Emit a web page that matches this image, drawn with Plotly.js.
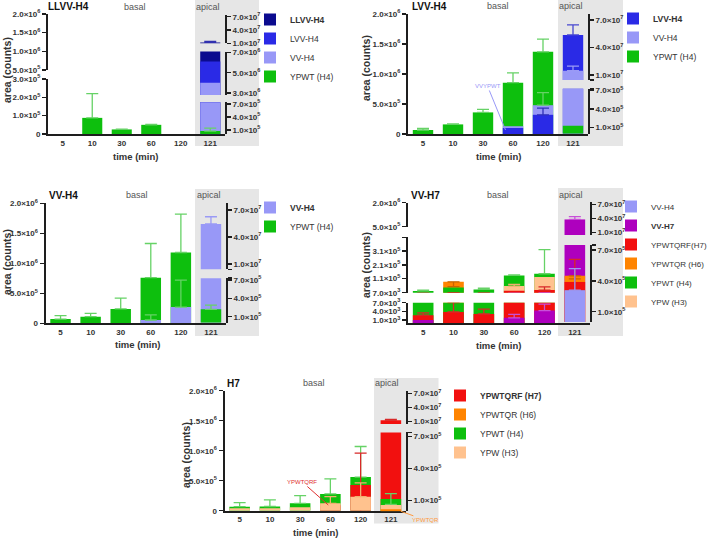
<!DOCTYPE html>
<html><head><meta charset="utf-8">
<script src="https://cdn.plot.ly/plotly-3.0.1.min.js"></script>
<style>html,body{margin:0;padding:0;background:#fff}</style>
</head><body><div id="chart" style="width:708px;height:538px"></div>
<script>
// ---------------- DATA ----------------
const categories = ['5', '10', '30', '60', '120', '121'];
const basalCats = ['5', '10', '30', '60', '120'];
const apicalCats = ['121'];

// Panel 1: LLVV-H4
const llvv_basal_YPWT     = [0, 8.8e4, 2.5e4, 5.0e4, 0];
const llvv_basal_YPWT_sd  = [0, 1.32e5, 2e3, 3e3, 0];
const llvv_apical_LLVV    = [1.2e7];
const llvv_apical_LLVV_sd = [2.5e6];
const llvv_apical_LVV     = [6.1e6];
const llvv_apical_VV      = [4.0e6];
const llvv_apical_YPWT    = [7.5e4];
const llvv_apical_YPWT_sd = [7e4];

// Panel 2: LVV-H4
const lvv_basal_YPWT      = [6.7e4, 1.6e5, 3.6e5, 8.55e5, 1.37e6];
const lvv_basal_YPWT_sd   = [2.8e4, 1e4, 5e4, 1.65e5, 2.1e5];
const lvv_basal_VV        = [0, 0, 0, 1.3e5, 4.8e5];
const lvv_basal_VV_sd     = [0, 0, 0, 0, 2.1e5];
const lvv_basal_LVV       = [0, 0, 0, 1.0e5, 3.2e5];
const lvv_basal_LVV_sd    = [0, 0, 0, 0, 1.1e5];
const lvv_apical_LVV      = [5.36e7];
const lvv_apical_LVV_sd   = [1.1e7];
const lvv_apical_VV       = [1.47e7];
const lvv_apical_VV_sd    = [5e6];
const lvv_apical_YPWT     = [1.3e5];

// Panel 3: VV-H4
const vv4_basal_YPWT      = [7e4, 1.1e5, 2.4e5, 7.6e5, 1.18e6];
const vv4_basal_YPWT_sd   = [5.7e4, 5.7e4, 1.8e5, 5.7e5, 6.4e5];
const vv4_basal_VV        = [0, 0, 0, 5.5e4, 2.7e5];
const vv4_basal_VV_sd     = [0, 0, 0, 8.5e4, 4.5e5];
const vv4_apical_VV       = [5.44e7];
const vv4_apical_VV_sd    = [8e6];
const vv4_apical_YPWT     = [2.2e5];
const vv4_apical_YPWT_sd  = [7e4];

// Panel 4: VV-H7
const vv7_basal_H6        = [0, 8.6e4, 0, 0, 0];
const vv7_basal_H6_sdm    = [0, 3.5e4, 0, 0, 0];
const vv7_basal_H4        = [2e4, 4.5e4, 3.1e4, 1.33e5, 1.45e5];
const vv7_basal_H4_sd     = [6e3, 0, 9e3, 3e3, 1.75e5];
const vv7_basal_H3        = [0, 0, 0, 5.5e4, 1.22e5];
const vv7_basal_H3_sd     = [0, 0, 0, 1.2e4, 0];
const vv7_basal_H7        = [2.7e3, 3.8e3, 3.1e3, 2.1e4, 2.6e4];
const vv7_basal_H7_sd     = [8e2, 3.2e3, 1.7e3, 0, 2.4e4];
const vv7_basal_VVH7      = [1e3, 0, 0, 1.8e3, 4.3e3];
const vv7_basal_VVH7_sd   = [0, 0, 0, 1.2e3, 2.2e3];
const vv7_apical_VVH7     = [3.8e7];
const vv7_apical_VVH7_sd  = [6e6];
const vv7_apical_H6       = [4.5e5];
const vv7_apical_H6_sdm   = [3e4];
const vv7_apical_H7       = [3.9e5];
const vv7_apical_H7_sd    = [2.2e5];
const vv7_apical_VVH4     = [3.1e5];
const vv7_apical_VVH4_sd  = [2.1e5];

// Panel 5: H7
const h7_basal_H4         = [6.7e4, 7e4, 1.23e5, 2.8e5, 5.6e5];
const h7_basal_H4_sd      = [6.6e4, 1.1e5, 1.27e5, 2.5e5, 5.1e5];
const h7_basal_H7         = [0, 0, 0, 9e4, 4.3e5];
const h7_basal_H7_sd      = [0, 0, 0, 0, 5.3e5];
const h7_basal_H3         = [4e4, 4e4, 5.7e4, 1.23e5, 2.33e5];
const h7_basal_H3_sd      = [0, 0, 0, 1.1e5, 2.3e5];
const h7_apical_H7        = [1.3e7];
const h7_apical_H7_sd     = [1.5e6];
const h7_apical_H4        = [1.15e5];
const h7_apical_H4_sd     = [5e4];
const h7_apical_H3        = [6e4];
const h7_apical_H6        = [2e4];

// ---------------- STYLE ----------------
const COL = {
  LLVV: '#0B0B8F', LVV: '#2A2AE6', VV: '#9898F7', H4: '#0DBF0D',
  VVH7: '#AE00BE', H7: '#F2100F', H6: '#FF8400', H3: '#FFC28E'
};
const ERRCOL = {
  LLVV: '#3030B0', LVV: '#4848D0', VV: '#9A9AF5', H4: '#66D266',
  VVH7: '#C850D8', H7: '#D82828', H6: '#C86400', H3: '#F0B070'
};
const FONT = 'Liberation Sans, Arial, sans-serif';
const W = 708, H = 538;
const fx = p => p / W, fy = p => 1 - p / H;
function fmt(v) {
  if (v === 0) return '0';
  const e = Math.floor(Math.log10(v) + 1e-9);
  const m = (v / Math.pow(10, e)).toFixed(1);
  return m + '×10<sup>' + e + '</sup>';
}

const panels = [
  { title: 'LLVV-H4', xdom: [48, 225], gray: [195, 259, 0, 146],
    titlePos: [68, 7], basalPos: [135, 7], apicalPos: [208, 7], yTitle: [7, 70], xTitle: [135, 156],
    legendPos: [250, 17], legendFont: 8.5,
    left: [ {range: [0, 3e5], py: [134, 79], ticks: [0, 1e5, 2e5, 3e5]},
            {range: [5e5, 2e6], py: [70, 14], ticks: [5e5, 1e6, 1.5e6, 2e6]} ],
    right: [ {range: [0, 7.4e5], py: [134.3, 102.3], ticks: [1e5, 4e5, 7e5]},
             {range: [2.8e6, 7.1e6], py: [95, 51.5], ticks: [3e6, 5e6, 7e6]},
             {range: [1e7, 7.5e7], py: [43.3, 14.5], ticks: [1e7, 4e7, 7e7]} ],
    basal: [ {k: 'H4', y: llvv_basal_YPWT, sd: llvv_basal_YPWT_sd} ],
    apical: [ {k: 'LLVV', y: llvv_apical_LLVV, sd: llvv_apical_LLVV_sd},
              {k: 'LVV', y: llvv_apical_LVV},
              {k: 'VV', y: llvv_apical_VV},
              {k: 'H4', y: llvv_apical_YPWT, sd: llvv_apical_YPWT_sd} ],
    legend: [['LLVV', '<b>LLVV-H4</b>'], ['LVV', 'LVV-H4'], ['VV', 'VV-H4'], ['H4', 'YPWT (H4)']] },

  { title: 'LVV-H4', xdom: [408, 588], gray: [558, 623, 0, 146],
    titlePos: [429, 6], basalPos: [498, 6], apicalPos: [571, 6], yTitle: [366, 68], xTitle: [498, 156],
    legendPos: [613, 16], legendFont: 8.5,
    left: [ {range: [0, 2e6], py: [134, 14], ticks: [0, 5e5, 1e6, 1.5e6, 2e6]} ],
    right: [ {range: [0, 7.3e5], py: [133.8, 88.8], ticks: [1e5, 4e5, 7e5], ends: [7.3e5]},
             {range: [4.5e6, 7.7e7], py: [80, 13.5], ticks: [1e7, 4e7, 7e7], ends: [4.5e6]} ],
    basal: [ {k: 'H4', y: lvv_basal_YPWT, sd: lvv_basal_YPWT_sd},
             {k: 'VV', y: lvv_basal_VV, sd: lvv_basal_VV_sd, ec: ERRCOL.H4},
             {k: 'LVV', y: lvv_basal_LVV, sd: lvv_basal_LVV_sd, ec: '#3030B8'} ],
    apical: [ {k: 'LVV', y: lvv_apical_LVV, sd: lvv_apical_LVV_sd},
              {k: 'VV', y: lvv_apical_VV, sd: lvv_apical_VV_sd},
              {k: 'H4', y: lvv_apical_YPWT} ],
    legend: [['LVV', '<b>LVV-H4</b>'], ['VV', 'VV-H4'], ['H4', 'YPWT (H4)']],
    note: {text: 'VVYPWT', color: '#9898F7', x: 2.75, y: 6.7e4, ax: -18, ay: -44} },

  { title: 'VV-H4', xdom: [45.5, 226], gray: [195, 259, 189, 336],
    titlePos: [63, 195], basalPos: [137, 195], apicalPos: [209, 195], yTitle: [7, 262], xTitle: [137, 344],
    legendPos: [250, 205], legendFont: 8.5,
    left: [ {range: [0, 2e6], py: [323.3, 203.3], ticks: [0, 5e5, 1e6, 1.5e6, 2e6]} ],
    right: [ {range: [0, 7.3e5], py: [322.8, 278.2], ticks: [1e5, 4e5, 7e5], ends: [7.3e5]},
             {range: [4.1e6, 7.8e7], py: [269.3, 202.7], ticks: [1e7, 4e7, 7e7], ends: [4.1e6]} ],
    basal: [ {k: 'H4', y: vv4_basal_YPWT, sd: vv4_basal_YPWT_sd},
             {k: 'VV', y: vv4_basal_VV, sd: vv4_basal_VV_sd, ec: ERRCOL.H4} ],
    apical: [ {k: 'VV', y: vv4_apical_VV, sd: vv4_apical_VV_sd},
              {k: 'H4', y: vv4_apical_YPWT, sd: vv4_apical_YPWT_sd} ],
    legend: [['VV', '<b>VV-H4</b>'], ['H4', 'YPWT (H4)']] },

  { title: 'VV-H7', xdom: [408, 590], gray: [558, 623, 188, 336],
    titlePos: [426, 195], basalPos: [498, 195], apicalPos: [571, 195], yTitle: [366, 265], xTitle: [498, 345],
    legendPos: [611, 204], legendFont: 8,
    left: [ {range: [0, 7e3], py: [323, 302.7], ticks: [1e3, 4e3, 7e3]},
            {range: [7e3, 4.1e5], py: [292.7, 237.3], ticks: [7e3, 1.1e5, 2.1e5, 3.1e5], ends: [4.1e5]},
            {range: [5e5, 2e6], py: [226.7, 202.7], ticks: [5e5, 2e6]} ],
    right: [ {range: [0, 7.5e5], py: [322, 245], ticks: [1e5, 4e5, 7e5], ends: [7.5e5]},
             {range: [5e6, 7.5e7], py: [235, 202], ticks: [1e7, 4e7, 7e7]} ],
    basal: [ {k: 'H6', y: vv7_basal_H6, sdm: vv7_basal_H6_sdm},
             {k: 'H4', y: vv7_basal_H4, sd: vv7_basal_H4_sd},
             {k: 'H3', y: vv7_basal_H3, sd: vv7_basal_H3_sd},
             {k: 'H7', y: vv7_basal_H7, sd: vv7_basal_H7_sd},
             {k: 'VVH7', y: vv7_basal_VVH7, sd: vv7_basal_VVH7_sd} ],
    apical: [ {k: 'VVH7', y: vv7_apical_VVH7, sd: vv7_apical_VVH7_sd},
              {k: 'H6', y: vv7_apical_H6, sdm: vv7_apical_H6_sdm},
              {k: 'H7', y: vv7_apical_H7, sd: vv7_apical_H7_sd, sym: true},
              {k: 'VV', y: vv7_apical_VVH4, sd: vv7_apical_VVH4_sd} ],
    legend: [['VV', 'VV-H4'], ['VVH7', '<b>VV-H7</b>'], ['H7', 'YPWTQRF(H7)'], ['H6', 'YPWTQR (H6)'], ['H4', 'YPWT (H4)'], ['H3', 'YPW (H3)']] },

  { title: 'H7', xdom: [224.5, 406], gray: [374, 438.5, 378, 523.5],
    titlePos: [233, 383], basalPos: [314, 383], apicalPos: [387, 383], yTitle: [186, 455], xTitle: [315, 532],
    legendPos: [440, 393], legendFont: 8.5,
    left: [ {range: [0, 2e6], py: [510.7, 390.7], ticks: [0, 5e5, 1e6, 1.5e6, 2e6]} ],
    right: [ {range: [0, 7.4e5], py: [511.3, 432.4], ticks: [1e5, 4e5, 7e5], ends: [7.4e5]},
             {range: [5e6, 7.5e7], py: [424, 390.9], ticks: [1e7, 4e7, 7e7]} ],
    basal: [ {k: 'H4', y: h7_basal_H4, sd: h7_basal_H4_sd},
             {k: 'H7', y: h7_basal_H7, sd: h7_basal_H7_sd, sym: true},
             {k: 'H3', y: h7_basal_H3, sd: h7_basal_H3_sd} ],
    apical: [ {k: 'H7', y: h7_apical_H7, sd: h7_apical_H7_sd},
              {k: 'H4', y: h7_apical_H4, sd: h7_apical_H4_sd, sym: true},
              {k: 'H3', y: h7_apical_H3},
              {k: 'H6', y: h7_apical_H6} ],
    legend: [['H7', '<b>YPWTQRF (H7)</b>'], ['H6', 'YPWTQR (H6)'], ['H4', 'YPWT (H4)'], ['H3', 'YPW (H3)']],
    note: {text: 'YPWTQRF', color: '#E03030', x: 2.93, y: 9.5e4, ax: -26, ay: -23},
    note2: {text: 'YPWTQR', color: '#FF9A40', x: 5.33, y: 0, ax: 25, ay: 9} }
];

// ---------------- BUILD ----------------
const traces = [];
const layout = {
  width: W, height: H, margin: {l: 0, r: 0, t: 0, b: 0, autoexpand: false},
  paper_bgcolor: '#fff', plot_bgcolor: 'rgba(0,0,0,0)',
  barmode: 'overlay', showlegend: true, shapes: [], annotations: [],
  font: {family: FONT, color: '#333'}
};
let xc = 0, yc = 0;
const newX = () => (++xc === 1 ? 'x' : 'x' + xc);
const newY = () => (++yc === 1 ? 'y' : 'y' + yc);
const key = r => r.replace(/^([xy])/, '$1axis');
const axisCol = '#1e1e1e';
const tickFont = {family: FONT, size: 8, color: '#333', weight: 'bold'};

function yAxis(seg, xref, side) {
  const vals = seg.ticks.concat(seg.ends || []);
  const txt = seg.ticks.map(fmt).concat((seg.ends || []).map(() => ''));
  return {
    domain: [fy(seg.py[0]), fy(seg.py[1])], anchor: xref, side: side,
    range: seg.range, tickmode: 'array', tickvals: vals, ticktext: txt,
    ticks: 'outside', ticklen: 4, tickwidth: 1.5, tickcolor: axisCol,
    showline: true, linewidth: 2, linecolor: axisCol, showgrid: false, zeroline: false,
    tickfont: tickFont, fixedrange: true
  };
}

function errArrays(s) {
  const plus = [], minus = [];
  for (let i = 0; i < s.y.length; i++) {
    const p = s.sd ? (s.sd[i] || 0) : 0;
    const m = s.sdm ? (s.sdm[i] || 0) : (s.sym ? p : 0);
    if (!p && !m) { plus.push(NaN); minus.push(NaN); } else { plus.push(p); minus.push(m); }
  }
  return {plus, minus};
}

panels.forEach((P, pi) => {
  const xref = newX();
  const legId = pi === 0 ? 'legend' : 'legend' + (pi + 1);
  const leftRefs = P.left.map(() => newY());
  const rightRefs = P.right.map(() => newY());
  layout[key(xref)] = {
    domain: [fx(P.xdom[0]), fx(P.xdom[1])], anchor: leftRefs[0], type: 'category',
    categoryorder: 'array', categoryarray: categories, range: [-0.5, 5.5],
    showline: true, linewidth: 2, linecolor: axisCol, ticks: '', showgrid: false, zeroline: false,
    tickfont: tickFont, fixedrange: true
  };
  P.left.forEach((seg, i) => { layout[key(leftRefs[i])] = yAxis(seg, xref, 'left'); });
  P.right.forEach((seg, i) => { layout[key(rightRefs[i])] = yAxis(seg, xref, 'right'); });

  const rank = {}; P.legend.forEach((l, i) => { rank[l[0]] = i + 1; });
  const label = {}; P.legend.forEach(l => { label[l[0]] = l[1]; });
  const seen = {};
  function add(list, cats, refs) {
    refs.forEach(yref => {
      list.forEach(s => {
        const e = errArrays(s);
        const show = !seen[s.k]; seen[s.k] = true;
        traces.push({
          type: 'bar', x: cats, y: s.y, xaxis: xref, yaxis: yref, width: 0.68,
          name: label[s.k], legend: legId, showlegend: show, legendrank: rank[s.k],
          marker: {color: COL[s.k], line: {width: 0}},
          error_y: {type: 'data', symmetric: false, array: e.plus, arrayminus: e.minus,
                    color: s.ec || ERRCOL[s.k], thickness: 1.3, width: 6, visible: true},
          hoverinfo: 'skip'
        });
      });
    });
  }
  add(P.basal, basalCats, leftRefs);
  add(P.apical, apicalCats, rightRefs);

  layout[legId] = {
    x: fx(P.legendPos[0]), y: fy(P.legendPos[1] - 12), xanchor: 'left', yanchor: 'top',
    bgcolor: 'rgba(0,0,0,0)', traceorder: 'normal', itemclick: false,
    font: {family: FONT, size: P.legendFont, color: '#333'}, tracegroupgap: 0
  };

  const g = P.gray;
  layout.shapes.push({type: 'rect', xref: 'paper', yref: 'paper', layer: 'below',
    x0: fx(g[0]), x1: fx(g[1]), y0: fy(g[3]), y1: fy(g[2]), fillcolor: '#E6E6E6', line: {width: 0}});

  const A = (txt, pos, opts) => layout.annotations.push(Object.assign({
    text: txt, xref: 'paper', yref: 'paper', x: fx(pos[0]), y: fy(pos[1]),
    showarrow: false, xanchor: 'center', yanchor: 'middle'}, opts));
  A('<b>' + P.title + '</b>', P.titlePos, {font: {family: FONT, size: 10, color: '#111'}});
  A('basal', P.basalPos, {font: {family: FONT, size: 9, color: '#555'}});
  A('apical', P.apicalPos, {font: {family: FONT, size: 9, color: '#555'}});
  A('<b>area (counts)</b>', P.yTitle, {textangle: -90, font: {family: FONT, size: 10.5, color: '#333'}});
  A('<b>time (min)</b>', P.xTitle, {font: {family: FONT, size: 9.5, color: '#333'}});

  if (P.note) {
    layout.annotations.push({text: P.note.text, xref: xref, yref: leftRefs[0], x: P.note.x, y: P.note.y,
      ax: P.note.ax, ay: P.note.ay, showarrow: true, arrowhead: 0, arrowwidth: 1, arrowcolor: P.note.color,
      font: {family: FONT, size: 6, color: P.note.color}});
  }
  if (P.note2) {
    layout.annotations.push({text: P.note2.text, xref: xref, yref: rightRefs[0], x: P.note2.x, y: P.note2.y,
      ax: P.note2.ax, ay: P.note2.ay, showarrow: true, arrowhead: 0, arrowwidth: 1, arrowcolor: P.note2.color,
      font: {family: FONT, size: 6, color: P.note2.color}});
  }
});

Plotly.newPlot('chart', traces, layout, {staticPlot: true, displayModeBar: false});
</script>
</body></html>
